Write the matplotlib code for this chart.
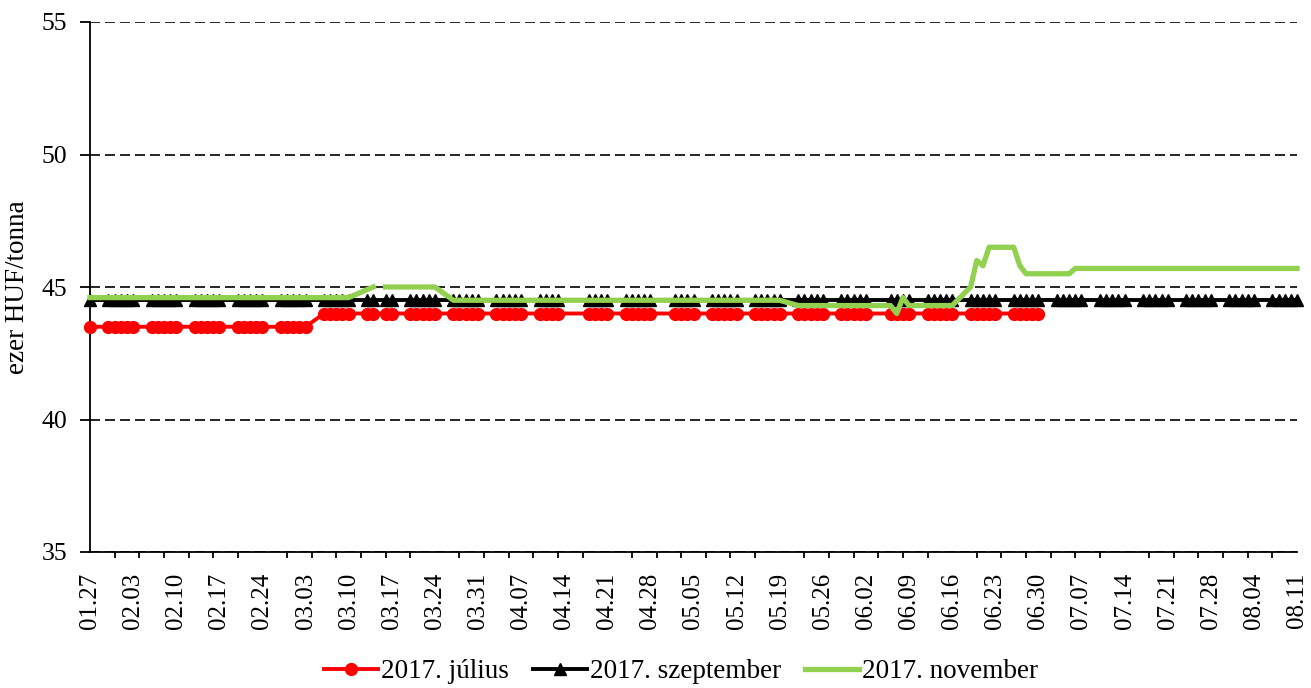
import numpy as np
import pandas as pd
import matplotlib
matplotlib.use("Agg")
import matplotlib.pyplot as plt
import matplotlib.dates as mdates

plt.rcParams["font.family"] = ["Liberation Serif", "DejaVu Serif"]

# --------------------------------------------------
# Data: trading days (HU holidays removed, 03.15 kept as empty row)
# --------------------------------------------------
holidays = ["2017-04-14", "2017-04-17", "2017-05-01", "2017-06-05"]
dates = pd.bdate_range("2017-01-27", "2017-08-11")
dates = dates[~dates.isin(pd.to_datetime(holidays))]

julius = ([43.5] * 26 + [44.0] * 7 + [None] + [44.0] * 73 + [None] * 30)
szeptember = ([44.5] * 33 + [None] + [44.5] * 103)
november = ([44.6] * 31 + [44.9, 45.0, None] + [45.0] * 7 + [44.5] * 37
            + [44.3] * 11 + [44.0, 44.6, 44.3] + [44.3] * 5
            + [45.0, 46.0, 45.8, 46.5, 46.5, 46.5, 45.8]
            + [45.5] * 6 + [45.7] * 27)

labels = ["2017. július", "2017. szeptember", "2017. november"]

# --------------------------------------------------
# Plot
# --------------------------------------------------
fig = plt.figure(figsize=(13.11, 6.88), dpi=100)
ax = fig.add_axes([90 / 1311, 1 - 552 / 688, 1207 / 1311, 530 / 688])

x = np.array(dates)
y_red = np.array(julius, dtype=float)
y_blk = np.array(szeptember, dtype=float)
y_grn = np.array(november, dtype=float)

m = ~np.isnan(y_red)
ax.plot(x[m], y_red[m], color="#ff0000", lw=2.8, marker="o", ms=8.5,
        label=labels[0], clip_on=False, zorder=3)
m = ~np.isnan(y_blk)
ax.plot(x[m], y_blk[m], color="black", lw=2.8, marker="^", ms=9,
        label=labels[1], clip_on=False, zorder=4)
ax.plot(x, y_grn, color="#92d050", lw=3.8, label=labels[2],
        clip_on=False, zorder=5)

start, end = pd.Timestamp("2017-01-27"), pd.Timestamp("2017-08-11")
ax.set_xlim(start, end)
ax.set_ylim(35, 55)
ax.set_yticks([35, 40, 45, 50, 55])

ax.set_xticks(pd.date_range(start, end, freq="7D"))
ax.xaxis.set_major_formatter(mdates.DateFormatter("%m.%d"))
ax.set_xticks(pd.date_range(start, end, freq="4D"), minor=True)
ax.tick_params(axis="x", which="major", length=0, pad=15, labelsize=18,
               labelrotation=90)
ax.tick_params(axis="x", which="minor", length=4, width=1.3, direction="out")
ax.tick_params(axis="y", length=7, width=1.3, direction="out", pad=9.5,
               labelsize=18.5)

ax.yaxis.grid(True, color="black", linestyle=(0, (6, 3)), lw=1.2)
ax.set_axisbelow(True)
for s in ["top", "right"]:
    ax.spines[s].set_visible(False)
for s in ["left", "bottom"]:
    ax.spines[s].set_linewidth(1.3)

ax.set_ylabel("ezer HUF/tonna", fontsize=19.5, labelpad=8)

fig.legend(loc="center", bbox_to_anchor=(681 / 1311, 1 - 672 / 688), ncol=3,
           frameon=False, fontsize=19.5, handlelength=2.0, handletextpad=0.1,
           columnspacing=0.9)

plt.savefig("out.png", dpi=100)
